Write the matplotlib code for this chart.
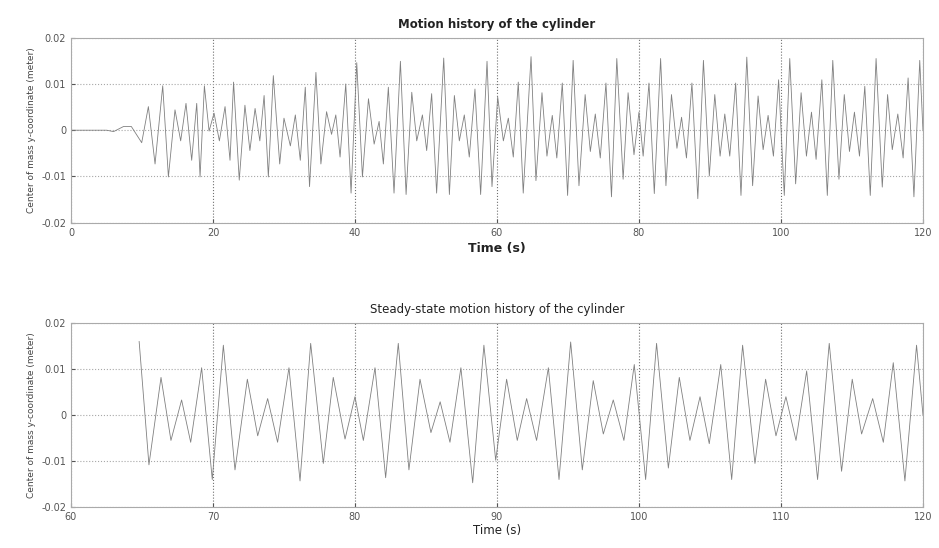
import numpy as np
import matplotlib
matplotlib.use('Agg')
import matplotlib.pyplot as plt

# start-up transient of the cylinder (time in s, y of centre of mass in m)
early_t = [0.0, 5.0, 6.0, 7.4, 8.5, 9.96, 10.9, 11.84, 12.92, 13.72, 14.65, 15.45, 16.2, 17.0,
           17.71, 18.18, 18.79, 19.45, 20.15, 20.9, 21.7, 22.4, 22.9, 23.7, 24.5, 25.2, 25.93,
           26.6, 27.2, 27.8, 28.5, 29.4, 30.0, 30.9, 31.6, 32.3, 33.0, 33.6, 34.5, 35.2, 36.0,
           36.7, 37.3, 37.9, 38.7, 39.45, 40.25, 41.05, 41.9, 42.7, 43.4, 44.0, 44.7, 45.5,
           46.4, 47.2, 48.0, 48.7, 49.5, 50.1, 50.8, 51.5, 52.5, 53.3, 54.0, 54.7, 55.4, 56.1,
           56.9, 57.7, 58.6, 59.3, 60.1, 60.9, 61.6, 62.3, 63.0, 63.7]
early_y = [0.0, 0.0, -0.0003, 0.0008, 0.0008, -0.0027, 0.0051, -0.0073, 0.0096, -0.0101,
           0.0044, -0.0023, 0.0058, -0.0065, 0.0058, -0.0101, 0.0096, -0.0002, 0.0037, -0.0023,
           0.0051, -0.0065, 0.0104, -0.0108, 0.0054, -0.0044, 0.0047, -0.0023, 0.0075, -0.0101,
           0.0118, -0.0073, 0.0026, -0.0034, 0.0033, -0.0065, 0.0093, -0.0122, 0.0125, -0.0073,
           0.0040, -0.0009, 0.0033, -0.0058, 0.0100, -0.0136, 0.0146, -0.0101, 0.0068, -0.0030,
           0.0019, -0.0073, 0.0093, -0.0136, 0.0149, -0.0139, 0.0082, -0.0023, 0.0033, -0.0044,
           0.0079, -0.0136, 0.0156, -0.0139, 0.0075, -0.0023, 0.0033, -0.0058, 0.0089, -0.0139,
           0.0149, -0.0122, 0.0072, -0.0023, 0.0026, -0.0058, 0.0104, -0.0136]

# steady-state part
steady_t = [64.8, 65.49, 66.34, 67.04, 67.79, 68.43, 69.2, 69.95, 70.73, 71.55, 72.42, 73.15,
            73.85, 74.55, 75.35, 76.13, 76.88, 77.77, 78.47, 79.3, 80.0, 80.59, 81.41, 82.16,
            83.05, 83.8, 84.58, 85.35, 86.0, 86.69, 87.46, 88.29, 89.08, 89.91, 90.68, 91.43,
            92.09, 92.79, 93.62, 94.37, 95.19, 96.01, 96.78, 97.49, 98.19, 98.94, 99.67, 100.47,
            101.24, 102.07, 102.84, 103.59, 104.3, 104.95, 105.76, 106.53, 107.3, 108.17, 108.92,
            109.65, 110.35, 111.06, 111.81, 112.58, 113.4, 114.27, 115.02, 115.68, 116.46, 117.21,
            117.91, 118.73, 119.55, 120.0]
steady_y = [0.0159, -0.0109, 0.0081, -0.0056, 0.0032, -0.0060, 0.0102, -0.0141, 0.0151, -0.0120,
            0.0077, -0.0046, 0.0035, -0.0060, 0.0102, -0.0144, 0.0155, -0.0106, 0.0081, -0.0053,
            0.0039, -0.0056, 0.0102, -0.0137, 0.0155, -0.0120, 0.0077, -0.0039, 0.0028, -0.0060,
            0.0102, -0.0148, 0.0151, -0.0099, 0.0077, -0.0056, 0.0035, -0.0056, 0.0102, -0.0141,
            0.0158, -0.0120, 0.0074, -0.0042, 0.0032, -0.0056, 0.0109, -0.0141, 0.0155, -0.0116,
            0.0081, -0.0056, 0.0039, -0.0063, 0.0109, -0.0141, 0.0151, -0.0106, 0.0077, -0.0046,
            0.0039, -0.0056, 0.0095, -0.0141, 0.0155, -0.0123, 0.0077, -0.0042, 0.0035, -0.0060,
            0.0113, -0.0144, 0.0151, 0.0]

y_ticks = [-0.02, -0.01, 0, 0.01, 0.02]
y_ticklabels = ['-0.02', '-0.01', '0', '0.01', '0.02']

line_col = '#808080'
text_col = '#222222'


def style_axes(ax):
    ax.set_ylim(-0.02, 0.02)
    ax.set_yticks(y_ticks)
    ax.set_yticklabels(y_ticklabels)
    ax.grid(True, axis='x', linestyle=':', color='#707070', linewidth=0.8)
    ax.grid(True, axis='y', linestyle=':', color='#a8a8a8', linewidth=0.8)
    for s in ax.spines.values():
        s.set_color('#aaaaaa')
        s.set_linewidth(0.8)
    ax.tick_params(labelsize=7, colors='#555555', direction='in', length=3)
    ax.set_ylabel('Center of mass y-coordinate (meter)', fontsize=6.5, color='#444444')


fig = plt.figure(figsize=(9.39, 5.48), dpi=100)

ax1 = fig.add_axes([0.0756, 0.5936, 0.9073, 0.3376])
ax1.plot(np.concatenate([early_t, steady_t]), np.concatenate([early_y, steady_y]),
         color=line_col, linewidth=0.6, solid_joinstyle='round')
ax1.set_xlim(0, 120)
ax1.set_xticks([0, 20, 40, 60, 80, 100, 120])
style_axes(ax1)
ax1.set_title('Motion history of the cylinder', fontsize=8.5, fontweight='bold', color=text_col, pad=7)
ax1.set_xlabel('Time (s)', fontsize=9, fontweight='bold', color=text_col, labelpad=3)

ax2 = fig.add_axes([0.0756, 0.0754, 0.9073, 0.3358])
ax2.plot(steady_t, steady_y, color=line_col, linewidth=0.6, solid_joinstyle='round')
ax2.set_xlim(60, 120)
ax2.set_xticks([60, 70, 80, 90, 100, 110, 120])
style_axes(ax2)
ax2.set_title('Steady-state motion history of the cylinder', fontsize=8.5, color=text_col, pad=7)
ax2.set_xlabel('Time (s)', fontsize=8.5, color=text_col, labelpad=2)

fig.savefig('out.png', dpi=100)
